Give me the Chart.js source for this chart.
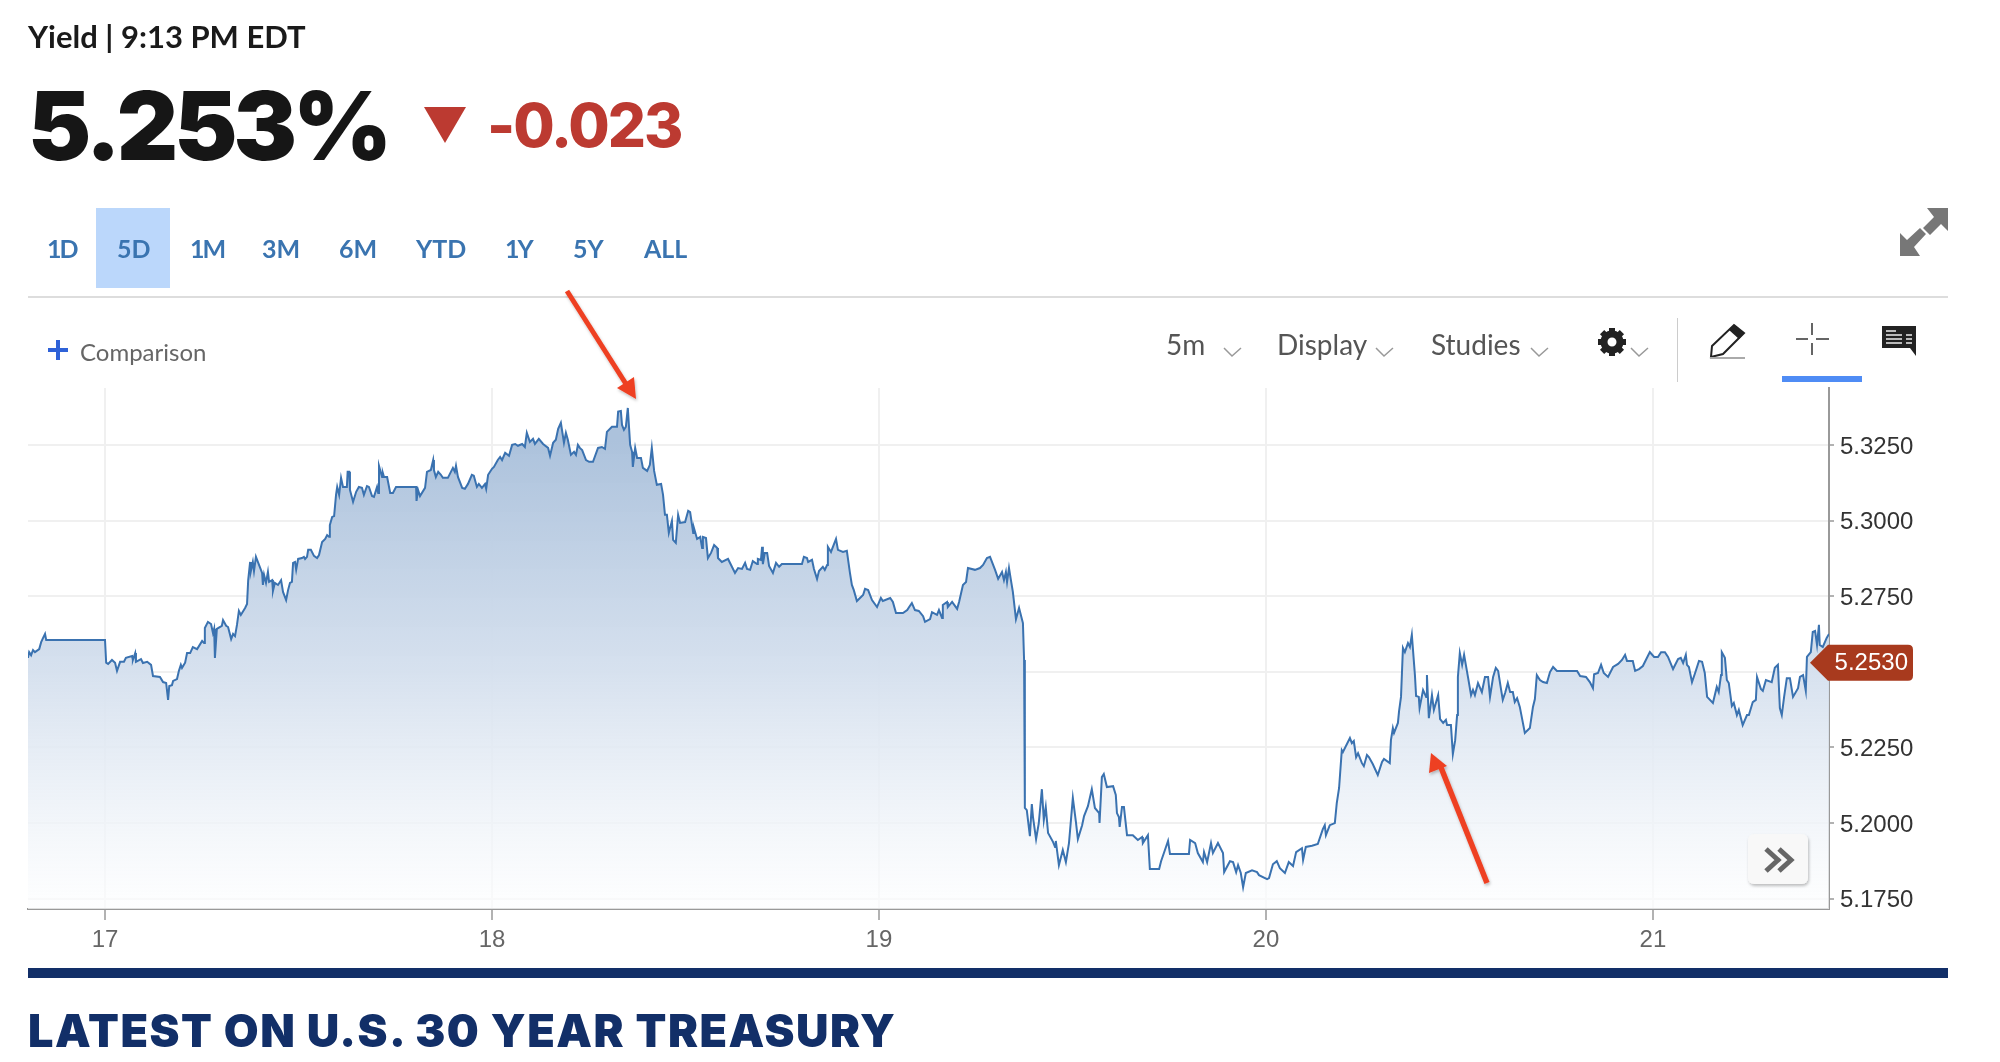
<!DOCTYPE html>
<html>
<head>
<meta charset="utf-8">
<title>U.S. 30 Year Treasury yield</title>
<script src="https://cdn.jsdelivr.net/npm/chart.js@4"></script>
<style>
html, body { margin: 0; background: #fff; width: 2000px; height: 1062px; overflow: hidden; }
canvas { position: absolute; left: 0; top: 0; }
.t { position: absolute; white-space: nowrap; font-family: Lato, sans-serif; line-height: 1; }
.big { font-family: Inter, sans-serif; }
.range { top: 236px; font-size: 25px; font-weight: 700; color: #3a74b0; }
.one { letter-spacing: -2px; }
.tool { top: 330px; font-size: 28px; color: #555; }
svg.icons { position: absolute; left: 0; top: 0; pointer-events: none; }
</style>
</head>
<body>
<canvas id="yieldChart" width="2000" height="1062"></canvas>

<span class="t" style="left:28px;top:21px;font-size:31px;font-weight:700;color:#1a1a1a">Yield | 9:13 PM EDT</span>
<span class="t big" style="left:28px;top:78px;font-size:95px;font-weight:900;color:#161616;letter-spacing:-4px">5.253%</span>
<span class="t big" style="left:487px;top:95px;font-size:60px;font-weight:800;color:#bc3a31;letter-spacing:-2px">-0.023</span>

<div style="position:absolute;left:96px;top:208px;width:74px;height:80px;background:#bbd7fb"></div>
<span class="t range one" style="left:47px">1D</span>
<span class="t range" style="left:117px">5D</span>
<span class="t range one" style="left:190px">1M</span>
<span class="t range" style="left:262px">3M</span>
<span class="t range" style="left:339px">6M</span>
<span class="t range" style="left:416px">YTD</span>
<span class="t range one" style="left:505px">1Y</span>
<span class="t range" style="left:573px">5Y</span>
<span class="t range" style="left:644px">ALL</span>

<div style="position:absolute;left:28px;top:296px;width:1920px;height:2px;background:#ddd"></div>
<span class="t" style="left:80px;top:340px;font-size:24px;color:#666">Comparison</span>
<span class="t tool" style="left:1166px">5m</span>
<span class="t tool" style="left:1277px">Display</span>
<span class="t tool" style="left:1431px">Studies</span>

<div style="position:absolute;left:1677px;top:318px;width:1px;height:64px;background:#ccc"></div>
<div style="position:absolute;left:1782px;top:376px;width:80px;height:6px;background:#4f8cf5"></div>
<div style="position:absolute;left:28px;top:968px;width:1920px;height:10px;background:#122f68"></div>
<span class="t big" style="left:28px;top:1008px;font-size:45px;font-weight:900;color:#122f68;letter-spacing:1.5px">LATEST ON U.S. 30 YEAR TREASURY</span>

<svg class="icons" width="2000" height="1062" style="z-index:2">
  <defs>
    <filter id="soft" x="-20%" y="-20%" width="140%" height="140%">
      <feDropShadow dx="1" dy="2" stdDeviation="1.5" flood-color="#000" flood-opacity="0.25"/>
    </filter>
  </defs>
  <!-- down triangle -->
  <polygon points="424,107 466,107 445,143" fill="#bc3a31"/>
  <!-- comparison plus -->
  <path d="M58 340V360M48 350H68" stroke="#2f62d8" stroke-width="4"/>
  <!-- expand -->
  <g fill="#777">
    <polygon points="1948,208 1948,231 1941,224 1930,235 1923,228 1934,217 1927,208"/>
    <polygon points="1900,256 1900,233 1907,240 1920,228 1926,234 1914,247 1920,256"/>
  </g>
  <!-- chevrons -->
  <g fill="none" stroke="#999" stroke-width="1.5">
    <path d="M1224 348L1232 356L1241 348"/>
    <path d="M1376 348L1384 356L1393 348"/>
    <path d="M1531 348L1539 356L1548 348"/>
    <path d="M1631 348L1639 356L1648 348"/>
  </g>
  <!-- gear -->
  <g transform="translate(1612,342)" fill="#222">
    <circle r="8" fill="none" stroke="#222" stroke-width="7"/>
    <path d="M-3 -14H3V-9H-3ZM-3 9H3V14H-3ZM-14 -3V3H-9V-3ZM9 -3V3H14V-3Z"/>
    <path d="M-3 -14H3V-9H-3ZM-3 9H3V14H-3ZM-14 -3V3H-9V-3ZM9 -3V3H14V-3Z" transform="rotate(45)"/>
  </g>
  <!-- pencil -->
  <path d="M1734 325L1744 333L1723 354L1711 357L1712 346Z" fill="#fff" stroke="#222" stroke-width="2"/>
  <path d="M1734 325L1744 333L1739 339L1729 330Z" fill="#222"/>
  <path d="M1710 358H1745" stroke="#aaa" stroke-width="2"/>
  <!-- crosshair -->
  <path d="M1812 323V335M1812 343V355M1796 339H1808M1816 339H1829" stroke="#333" stroke-width="1.5"/>
  <!-- comment -->
  <path d="M1882 326H1916V356L1910 348H1882Z" fill="#222"/>
  <path d="M1886 331H1896M1886 335H1902M1906 335H1912M1886 339H1902M1906 339H1912M1886 343H1902M1906 343H1912" stroke="#bbb" stroke-width="2"/>
  <!-- red arrows -->
  <g filter="url(#soft)">
    <path d="M567 291L626 384" stroke="#ee4023" stroke-width="5"/>
    <polygon points="636,399 617,388 634,377" fill="#ee4023"/>
    <path d="M1487 883L1440 765" stroke="#ee4023" stroke-width="5.5"/>
    <polygon points="1431,753 1429,773 1447,766" fill="#ee4023"/>
  </g>
  <!-- scroll to latest -->
  <rect x="1748" y="834" width="60" height="50" rx="6" fill="#f8f8f8" filter="url(#soft)"/>
  <path d="M1766 849L1778 860L1766 871M1779 849L1791 860L1779 871" fill="none" stroke="#666" stroke-width="5"/>
</svg>

<script>
const yTicks = [5.175, 5.2, 5.225, 5.25, 5.275, 5.3, 5.325];
const xTicks = [17, 18, 19, 20, 21];
const lastPrice = 5.253;

// day of month (with fraction), then yield
const times16 = [16.801,16.804,16.809,16.814,16.819,16.830,16.835,16.840,16.845,16.848,17.000];
const yields16 = [5.2546,5.2565,5.2555,5.2572,5.2565,5.2575,5.2598,5.2612,5.2625,5.2605,5.2605];

const times17 = [17.003,17.008,17.018,17.026,17.031,17.039,17.049,17.054,17.070,17.072,17.078,17.080,17.093,17.098,17.109,17.119,17.124,17.142,17.150,17.158,17.163,17.166,17.173,17.176,17.186,17.191,17.196,17.199,17.207,17.212,17.220,17.227,17.238,17.251,17.256,17.258,17.266,17.274,17.279,17.282,17.284,17.289,17.302,17.305,17.313,17.318,17.326,17.331,17.336,17.341,17.346,17.351,17.362,17.367,17.370,17.375,17.377,17.382,17.385,17.390,17.395,17.406,17.408,17.411,17.416,17.421,17.424,17.432,17.434,17.439,17.447,17.455,17.460,17.468,17.473,17.478,17.483,17.486,17.491,17.494,17.499,17.509,17.514,17.517,17.522,17.525,17.532,17.540,17.548,17.553,17.561,17.569,17.574,17.579,17.581,17.587,17.592,17.597,17.600,17.605,17.610,17.615,17.625,17.627,17.631,17.633,17.641,17.649,17.656,17.664,17.669,17.677,17.682,17.690,17.695,17.703,17.706,17.708,17.716,17.718,17.721,17.729,17.737,17.744,17.752,17.804,17.805,17.809,17.814,17.827,17.832,17.842,17.848,17.850,17.855,17.861,17.868,17.873,17.886,17.899,17.904,17.907,17.912,17.923,17.930,17.938,17.948,17.953,17.961,17.966,17.974,17.982,17.985,17.990,18.000];
const yields17 = [5.2530,5.2526,5.2539,5.2530,5.2503,5.2533,5.2533,5.2546,5.2552,5.2539,5.2562,5.2533,5.2542,5.2529,5.2533,5.2523,5.2486,5.2483,5.2466,5.2463,5.2407,5.2453,5.2456,5.2470,5.2476,5.2503,5.2523,5.2513,5.2530,5.2562,5.2562,5.2582,5.2575,5.2602,5.2595,5.2645,5.2665,5.2658,5.2628,5.2642,5.2546,5.2642,5.2652,5.2671,5.2652,5.2648,5.2608,5.2625,5.2618,5.2655,5.2701,5.2688,5.2711,5.2724,5.2803,5.2863,5.2833,5.2863,5.2833,5.2880,5.2863,5.2827,5.2787,5.2820,5.2794,5.2830,5.2797,5.2803,5.2767,5.2794,5.2787,5.2803,5.2764,5.2737,5.2770,5.2794,5.2797,5.2860,5.2863,5.2837,5.2873,5.2876,5.2880,5.2873,5.2880,5.2903,5.2903,5.2883,5.2876,5.2886,5.2929,5.2939,5.2952,5.2946,5.2985,5.3012,5.3015,5.3085,5.3111,5.3085,5.3141,5.3111,5.3111,5.3161,5.3161,5.3101,5.3062,5.3095,5.3111,5.3108,5.3085,5.3114,5.3111,5.3081,5.3078,5.3111,5.3091,5.3181,5.3144,5.3157,5.3144,5.3144,5.3091,5.3091,5.3111,5.3111,5.3065,5.3101,5.3081,5.3108,5.3161,5.3167,5.3200,5.3167,5.3144,5.3161,5.3151,5.3141,5.3141,5.3174,5.3161,5.3181,5.3144,5.3108,5.3105,5.3121,5.3151,5.3148,5.3111,5.3121,5.3108,5.3121,5.3105,5.3151,5.3171];

const times18 = [18.005,18.015,18.021,18.026,18.034,18.044,18.052,18.060,18.067,18.078,18.085,18.090,18.098,18.106,18.111,18.121,18.132,18.145,18.150,18.158,18.165,18.171,18.178,18.186,18.191,18.196,18.204,18.212,18.217,18.222,18.227,18.233,18.243,18.251,18.261,18.274,18.284,18.292,18.297,18.310,18.323,18.326,18.333,18.336,18.341,18.346,18.351,18.357,18.362,18.364,18.370,18.375,18.385,18.390,18.401,18.408,18.413,18.419,18.426,18.437,18.442,18.447,18.452,18.457,18.465,18.468,18.475,18.481,18.486,18.499,18.507,18.512,18.520,18.522,18.530,18.538,18.543,18.545,18.553,18.558,18.566,18.574,18.582,18.584,18.594,18.610,18.628,18.636,18.646,18.654,18.659,18.667,18.674,18.685,18.687,18.695,18.698,18.700,18.705,18.711,18.716,18.726,18.734,18.742,18.749,18.801,18.806,18.814,18.817,18.827,18.832,18.840,18.845,18.855,18.860,18.866,18.868,18.876,18.889,18.894,18.907,18.917,18.925,18.930,18.935,18.943,18.959,18.964,18.972,18.982,18.995];
const yields18 = [5.3177,5.3200,5.3210,5.3200,5.3224,5.3214,5.3250,5.3253,5.3247,5.3253,5.3243,5.3290,5.3260,5.3270,5.3253,5.3270,5.3253,5.3240,5.3214,5.3257,5.3267,5.3303,5.3323,5.3257,5.3290,5.3267,5.3217,5.3227,5.3217,5.3250,5.3240,5.3233,5.3200,5.3194,5.3194,5.3240,5.3243,5.3237,5.3293,5.3310,5.3310,5.3360,5.3362,5.3316,5.3300,5.3310,5.3372,5.3250,5.3227,5.3177,5.3240,5.3207,5.3207,5.3174,5.3164,5.3184,5.3240,5.3164,5.3118,5.3121,5.3085,5.3019,5.3019,5.2959,5.2999,5.2936,5.2926,5.3019,5.2992,5.2995,5.3032,5.3028,5.2959,5.2975,5.2939,5.2946,5.2909,5.2946,5.2942,5.2876,5.2893,5.2919,5.2909,5.2876,5.2863,5.2873,5.2827,5.2843,5.2840,5.2860,5.2840,5.2837,5.2866,5.2856,5.2873,5.2870,5.2913,5.2856,5.2893,5.2893,5.2850,5.2827,5.2860,5.2847,5.2856,5.2856,5.2880,5.2876,5.2863,5.2870,5.2840,5.2807,5.2833,5.2847,5.2837,5.2853,5.2913,5.2896,5.2939,5.2903,5.2896,5.2900,5.2827,5.2787,5.2770,5.2734,5.2754,5.2774,5.2770,5.2737,5.2714];

const times19 = [19.005,19.010,19.029,19.036,19.044,19.054,19.062,19.073,19.078,19.085,19.093,19.103,19.114,19.119,19.132,19.137,19.150,19.155,19.163,19.165,19.176,19.178,19.189,19.202,19.207,19.217,19.225,19.230,19.248,19.261,19.269,19.279,19.287,19.300,19.308,19.318,19.323,19.328,19.331,19.336,19.341,19.346,19.354,19.362,19.372,19.375,19.377,19.382,19.390,19.395,19.398,19.406,19.413,19.421,19.426,19.431,19.437,19.450,19.455,19.457,19.465,19.475,19.483,19.491,19.501,19.509,19.514,19.525,19.530,19.540,19.550,19.558,19.569,19.570,19.576,19.581,19.589,19.605,19.612,19.615,19.620,19.622,19.628,19.633,19.641,19.656,19.669,19.680,19.682,19.695,19.700,19.724,19.729,19.739,19.747,19.752,19.801,19.804,19.817,19.824,19.837,19.840,19.848,19.858,19.863,19.876,19.889,19.892,19.907,19.915,19.923,19.928,19.935,19.941,19.948,19.964,19.977,19.982];
const yields19 = [5.2744,5.2734,5.2744,5.2731,5.2694,5.2694,5.2694,5.2704,5.2714,5.2727,5.2704,5.2701,5.2684,5.2665,5.2674,5.2697,5.2688,5.2704,5.2678,5.2721,5.2731,5.2714,5.2731,5.2708,5.2731,5.2787,5.2797,5.2843,5.2837,5.2843,5.2853,5.2876,5.2880,5.2837,5.2807,5.2830,5.2803,5.2830,5.2797,5.2843,5.2803,5.2764,5.2674,5.2711,5.2661,5.2539,5.2050,5.2043,5.1957,5.2063,5.2020,5.1947,5.2000,5.2112,5.2010,5.2053,5.1967,5.1937,5.1921,5.1941,5.1861,5.1911,5.1871,5.1934,5.2083,5.2003,5.1947,5.1993,5.2023,5.2056,5.2112,5.2050,5.2033,5.2000,5.2152,5.2162,5.2119,5.2122,5.2093,5.2033,5.2020,5.1987,5.2053,5.2053,5.1960,5.1960,5.1944,5.1954,5.1934,5.1960,5.1848,5.1848,5.1874,5.1911,5.1941,5.1898,5.1898,5.1944,5.1934,5.1901,5.1871,5.1904,5.1871,5.1934,5.1901,5.1934,5.1901,5.1838,5.1874,5.1871,5.1838,5.1861,5.1835,5.1788,5.1835,5.1844,5.1838,5.1828];

const times20 = [20.003,20.008,20.018,20.028,20.036,20.049,20.059,20.070,20.078,20.093,20.096,20.103,20.119,20.134,20.147,20.152,20.155,20.165,20.178,20.183,20.189,20.196,20.199,20.217,20.222,20.227,20.233,20.238,20.248,20.253,20.261,20.266,20.276,20.289,20.300,20.305,20.320,20.323,20.328,20.331,20.341,20.344,20.349,20.354,20.359,20.367,20.372,20.377,20.385,20.388,20.395,20.397,20.406,20.414,20.416,20.421,20.429,20.434,20.445,20.450,20.458,20.465,20.468,20.478,20.483,20.489,20.494,20.496,20.501,20.507,20.512,20.522,20.530,20.535,20.540,20.548,20.558,20.566,20.574,20.579,20.587,20.594,20.600,20.607,20.612,20.618,20.625,20.631,20.638,20.643,20.649,20.656,20.664,20.669,20.682,20.690,20.695,20.700,20.708,20.716,20.726,20.734,20.742,20.752,20.804,20.812,20.827,20.837,20.845,20.848,20.858,20.866,20.873,20.884,20.897,20.910,20.920,20.928,20.933,20.948,20.954,20.964,20.974,20.992];
const yields20 = [5.1815,5.1818,5.1864,5.1874,5.1851,5.1835,5.1871,5.1858,5.1904,5.1917,5.1878,5.1921,5.1925,5.1931,5.1980,5.1993,5.1960,5.1993,5.2000,5.2066,5.2116,5.2241,5.2235,5.2281,5.2264,5.2271,5.2218,5.2231,5.2198,5.2188,5.2225,5.2218,5.2195,5.2159,5.2202,5.2212,5.2198,5.2274,5.2314,5.2298,5.2331,5.2370,5.2417,5.2579,5.2565,5.2595,5.2582,5.2622,5.2489,5.2420,5.2417,5.2380,5.2440,5.2417,5.2489,5.2347,5.2423,5.2374,5.2423,5.2344,5.2331,5.2341,5.2324,5.2324,5.2228,5.2274,5.2357,5.2483,5.2562,5.2523,5.2556,5.2483,5.2423,5.2440,5.2423,5.2463,5.2433,5.2483,5.2483,5.2417,5.2483,5.2513,5.2503,5.2446,5.2407,5.2430,5.2463,5.2433,5.2433,5.2400,5.2413,5.2384,5.2331,5.2298,5.2314,5.2384,5.2410,5.2489,5.2473,5.2466,5.2463,5.2499,5.2516,5.2503,5.2503,5.2486,5.2483,5.2466,5.2446,5.2492,5.2496,5.2523,5.2496,5.2483,5.2516,5.2526,5.2539,5.2556,5.2536,5.2536,5.2503,5.2509,5.2519,5.2565];

const times21 = [21.003,21.013,21.021,21.031,21.039,21.052,21.065,21.072,21.078,21.085,21.088,21.093,21.101,21.109,21.119,21.127,21.134,21.140,21.155,21.165,21.170,21.176,21.178,21.186,21.191,21.196,21.204,21.209,21.217,21.222,21.232,21.243,21.248,21.258,21.266,21.269,21.279,21.284,21.292,21.307,21.315,21.323,21.328,21.333,21.339,21.346,21.354,21.362,21.375,21.380,21.388,21.395,21.398,21.408,21.413,21.419,21.424,21.429,21.431,21.439,21.449,21.455];
const yields21 = [5.2549,5.2549,5.2565,5.2565,5.2549,5.2509,5.2542,5.2546,5.2529,5.2556,5.2523,5.2516,5.2466,5.2496,5.2536,5.2533,5.2496,5.2417,5.2397,5.2450,5.2433,5.2489,5.2565,5.2546,5.2473,5.2463,5.2387,5.2397,5.2357,5.2374,5.2324,5.2357,5.2357,5.2400,5.2407,5.2483,5.2443,5.2437,5.2473,5.2466,5.2513,5.2523,5.2380,5.2357,5.2417,5.2479,5.2479,5.2417,5.2446,5.2483,5.2489,5.2437,5.2549,5.2565,5.2632,5.2635,5.2589,5.2655,5.2589,5.2582,5.2612,5.2625];

const times = [...times16, ...times17, ...times18, ...times19, ...times20, ...times21];
const yields = [...yields16, ...yields17, ...yields18, ...yields19, ...yields20, ...yields21];

// price tag on the right axis
const lastPriceTag = {
    id: 'lastPriceTag',
    afterDraw(chart) {
        const c = chart.ctx;
        const y = chart.scales.y.getPixelForValue(lastPrice);
        const right = chart.chartArea.right;
        c.save();
        c.fillStyle = '#a83a1e';
        c.beginPath();
        c.moveTo(right - 19, y);
        c.lineTo(right - 1, y - 18);
        c.lineTo(right + 79, y - 18);
        c.quadraticCurveTo(right + 84, y - 18, right + 84, y - 13);
        c.lineTo(right + 84, y + 13);
        c.quadraticCurveTo(right + 84, y + 18, right + 79, y + 18);
        c.lineTo(right - 1, y + 18);
        c.closePath();
        c.fill();
        c.fillStyle = '#fff';
        c.font = '24px "Liberation Sans"';
        c.textAlign = 'right';
        c.textBaseline = 'middle';
        c.fillText(lastPrice.toFixed(4), right + 79, y + 1);
        c.restore();
    }
};

new Chart(document.getElementById('yieldChart').getContext('2d'), {
    type: 'line',
    data: {
        datasets: [{
            data: times.map((t, i) => ({ x: t, y: yields[i] })),
            borderColor: '#3a72b0',
            borderWidth: 2,
            pointRadius: 0,
            tension: 0,
            fill: 'start',
            backgroundColor: ctx => {
                const area = ctx.chart.chartArea;
                if (!area) return 'transparent';
                const g = ctx.chart.ctx.createLinearGradient(0, area.top + 52, 0, area.bottom - 9);
                g.addColorStop(0, 'rgba(172,194,220,1)');
                g.addColorStop(0.5, 'rgba(213,224,238,0.97)');
                g.addColorStop(1, 'rgba(252,253,254,0.7)');
                return g;
            }
        }]
    },
    options: {
        responsive: false,
        devicePixelRatio: 1,
        animation: false,
        layout: { padding: { left: 28, top: 388, right: 0, bottom: 93 } },
        plugins: { legend: { display: false }, tooltip: { enabled: false } },
        scales: {
            x: {
                type: 'linear',
                min: 16.801,
                max: 21.455,
                afterBuildTicks: axis => { axis.ticks = xTicks.map(v => ({ value: v })); },
                afterFit: axis => { axis.height = 60; },
                border: { color: '#999', width: 2 },
                grid: { color: '#f0f0f0', lineWidth: 2, tickColor: '#999', tickLength: 11, tickWidth: 1.5 },
                ticks: {
                    autoSkip: false,
                    maxRotation: 0,
                    padding: 6,
                    color: '#666',
                    font: { family: '"Liberation Sans"', size: 24 },
                    callback: v => String(v)
                }
            },
            y: {
                position: 'right',
                min: 5.1716,
                max: 5.3438,
                afterBuildTicks: axis => { axis.ticks = yTicks.map(v => ({ value: v })); },
                afterFit: axis => { axis.width = 171; },
                border: { color: '#999', width: 2 },
                grid: { color: '#f0f0f0', lineWidth: 2, tickColor: '#999', tickLength: 5, tickWidth: 1.5 },
                ticks: {
                    padding: 6,
                    labelOffset: 2,
                    color: '#333',
                    font: { family: '"Liberation Sans"', size: 24 },
                    callback: v => v.toFixed(4)
                }
            }
        }
    },
    plugins: [lastPriceTag]
});
</script>
</body>
</html>
